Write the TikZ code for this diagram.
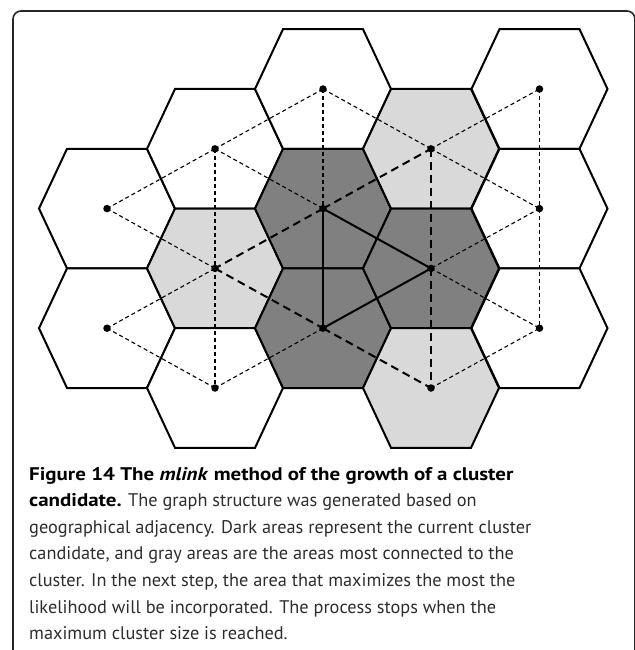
\documentclass[tikz,border=0pt]{standalone}
\usepackage{fontspec}
\setmainfont{PT Sans}
\newfontfamily\capboldfont{PT Sans}[FakeStretch=1.145]
\definecolor{darkcell}{RGB}{128,128,128}
\definecolor{lightcell}{RGB}{217,217,217}
\definecolor{captext}{RGB}{45,45,45}
\newcommand{\hexcell}[2]{\draw[hexline, fill=#2, shift={(#1)}] (-68,0) -- (-40,-59.8) -- (40,-59.8) -- (68,0) -- (40,59.8) -- (-40,59.8) -- cycle;}
\begin{document}
\begin{tikzpicture}[x=1pt,y=-1pt,
  hexline/.style={line width=2pt, line join=miter, draw=black},
  thinlink/.style={line width=1.1pt, dash pattern=on 4pt off 3pt},
  thicklink/.style={line width=2pt, dash pattern=on 8pt off 5pt},
  solidlink/.style={line width=2pt},
  dot/.style={circle, fill=black, inner sep=0pt, minimum size=7.5pt},
  outerframe/.style={line width=1.6pt, draw=black!85},
  capline/.style={anchor=base west, inner sep=0pt, text=captext, font=\fontsize{18.3}{22}\selectfont}]
\useasboundingbox (0,0) rectangle (634,650);
% frame
\draw[outerframe] (13,652) -- (13,19) arc[start angle=180, end angle=270, radius=8] -- (627,11) arc[start angle=270, end angle=360, radius=8] -- (635,652);
% cell centres
\coordinate (c02) at (107,208.6);
\coordinate (c04) at (107,328.2);
\coordinate (c11) at (215,148.8);
\coordinate (c13) at (215,268.4);
\coordinate (c15) at (215,388);
\coordinate (c20) at (323,89);
\coordinate (c22) at (323,208.6);
\coordinate (c24) at (323,328.2);
\coordinate (c31) at (431,148.8);
\coordinate (c33) at (431,268.4);
\coordinate (c35) at (431,388);
\coordinate (c40) at (539.5,89);
\coordinate (c42) at (539.5,208.6);
\coordinate (c44) at (539.5,328.2);
% cells
\hexcell{c02}{white}
\hexcell{c04}{white}
\hexcell{c11}{white}
\hexcell{c13}{lightcell}
\hexcell{c15}{white}
\hexcell{c20}{white}
\hexcell{c22}{darkcell}
\hexcell{c24}{darkcell}
\hexcell{c31}{lightcell}
\hexcell{c33}{darkcell}
\hexcell{c35}{lightcell}
\hexcell{c40}{white}
\hexcell{c42}{white}
\hexcell{c44}{white}
% thin adjacency links
\draw[thinlink] (c02) -- (c11);
\draw[thinlink] (c02) -- (c13);
\draw[thinlink] (c04) -- (c13);
\draw[thinlink] (c04) -- (c15);
\draw[thinlink] (c11) -- (c13);
\draw[thinlink] (c13) -- (c15);
\draw[thinlink] (c11) -- (c20);
\draw[thinlink] (c11) -- (c22);
\draw[thinlink] (c15) -- (c24);
\draw[thinlink] (c20) -- (c22);
\draw[thinlink] (c20) -- (c31);
\draw[thinlink] (c31) -- (c40);
\draw[thinlink] (c31) -- (c42);
\draw[thinlink] (c40) -- (c42);
\draw[thinlink] (c42) -- (c33);
\draw[thinlink] (c42) -- (c44);
\draw[thinlink] (c33) -- (c44);
\draw[thinlink] (c35) -- (c44);
% thick dashed links to candidates
\draw[thicklink] (c22) -- (c31);
\draw[thicklink] (c31) -- (c33);
\draw[thicklink] (c22) -- (c13);
\draw[thicklink] (c13) -- (c24);
\draw[thicklink] (c24) -- (c35);
\draw[thicklink] (c33) -- (c35);
% solid cluster links
\draw[solidlink] (c22) -- (c24);
\draw[solidlink] (c22) -- (c33);
\draw[solidlink] (c33) -- (c24);
% dots
\foreach \c in {02,04,11,13,15,20,22,24,31,33,35,40,42,44}
  \node[dot] (d\c) at (c\c) {};
% caption
\node[capline] (cap1) at (29,480) {\color{black}\capboldfont\bfseries Figure 14 The \textit{mlink} method of the growth of a cluster};
\node[capline] (cap2) at (29,506.6) {{\color{black}\capboldfont\bfseries candidate.} The graph structure was generated based on};
\node[capline] (cap3) at (29,533.2) {geographical adjacency. Dark areas represent the current cluster};
\node[capline] (cap4) at (29,559.8) {candidate, and gray areas are the areas most connected to the};
\node[capline] (cap5) at (29,586.4) {cluster. In the next step, the area that maximizes the most the};
\node[capline] (cap6) at (29,613) {likelihood will be incorporated. The process stops when the};
\node[capline] (cap7) at (29,639.6) {maximum cluster size is reached.};
\end{tikzpicture}
\end{document}
